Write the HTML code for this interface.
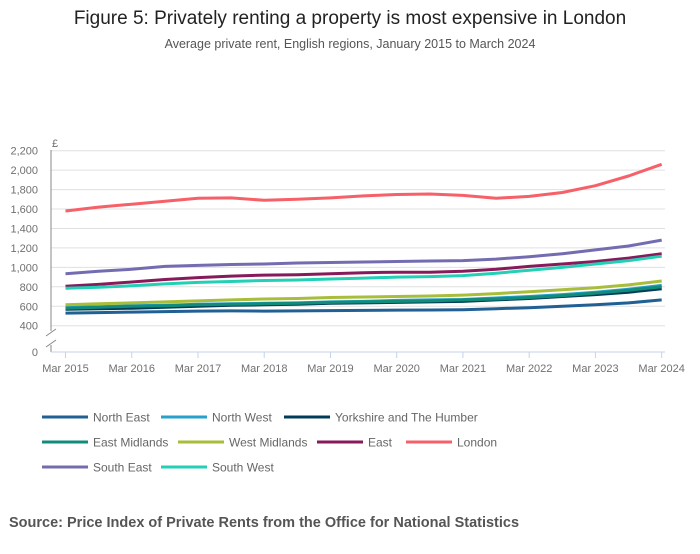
<!DOCTYPE html>
<html><head><meta charset="utf-8"><style>
body{margin:0;width:700px;height:549px;background:#fff;font-family:"Liberation Sans",sans-serif;overflow:hidden}
svg text{font-family:"Liberation Sans",sans-serif}
</style></head><body>
<svg id="chart" width="700" height="549">
<text x="350" y="24" text-anchor="middle" font-size="19" fill="#222">Figure 5: Privately renting a property is most expensive in London</text>
<text x="350" y="48" text-anchor="middle" font-size="12.5" fill="#555">Average private rent, English regions, January 2015 to March 2024</text>
<text x="9" y="527" font-size="14.5" font-weight="bold" fill="#555">Source: Price Index of Private Rents from the Office for National Statistics</text>
<g id="grid"></g><g id="axes"></g><g id="lines"></g><g id="legend"></g>
</svg>
<script>
const years = [2015,2016,2017,2018,2019,2020,2021,2022,2023,2024];
const yTicks = [400,600,800,1000,1200,1400,1600,1800,2000,2200];
const regions = ["North East","North West","Yorkshire and The Humber","East Midlands","West Midlands","East","London","South East","South West"];
const colors = ["#206095","#27a0cc","#003c57","#118c7b","#a8bd3a","#871a5b","#f66068","#746cb1","#22d0b6"];
const northEast = [530,535,540,545,550,552,550,552,555,557,560,562,565,575,585,600,615,635,665];
const northWest = [590,595,605,610,620,625,630,635,645,650,660,665,670,685,700,720,745,775,815];
const yorkshire = [570,575,580,590,600,610,615,620,630,635,640,645,650,665,680,700,720,745,780];
const eastMidlands = [580,590,600,605,615,620,625,630,640,645,650,655,665,675,690,710,735,765,800];
const westMidlands = [615,625,635,645,655,665,675,680,690,695,700,705,715,730,750,770,790,820,860];
const east = [805,825,850,875,895,910,920,925,935,945,950,950,960,980,1010,1035,1060,1095,1140];
const london = [1580,1620,1650,1680,1710,1715,1690,1700,1715,1735,1750,1755,1740,1710,1730,1770,1840,1940,2060];
const southEast = [935,960,980,1010,1020,1030,1035,1045,1050,1055,1060,1065,1070,1085,1110,1140,1180,1220,1280];
const southWest = [785,795,810,830,845,855,865,870,880,890,900,905,915,940,970,1000,1035,1070,1115];
const series = [northEast,northWest,yorkshire,eastMidlands,westMidlands,east,london,southEast,southWest];
const NS="http://www.w3.org/2000/svg";
const xS = t => 65.5 + (t-2015)*66.24;
const yS = v => 325.7 - (v-400)*0.09722;
function mk(tag,attrs,parent){const e=document.createElementNS(NS,tag);for(const k in attrs)e.setAttribute(k,attrs[k]);parent.appendChild(e);return e;}
const grid=document.getElementById('grid'),axes=document.getElementById('axes'),lines=document.getElementById('lines'),legend=document.getElementById('legend');
yTicks.forEach(v=>{
  const l=mk('line',{x1:51,x2:665,y1:yS(v),y2:yS(v),stroke:'#e0e0e0','stroke-width':1},grid);
  
  
  const t=mk('text',{x:38,y:yS(v)+4,'text-anchor':'end','font-size':11,fill:'#707070'},axes);
  t.textContent=v.toLocaleString('en-GB');
  
  
});
const z=mk('text',{x:38,y:356,'text-anchor':'end','font-size':11,fill:'#707070'},axes);z.textContent='0';


const pd=mk('text',{x:52,y:147,'font-size':11,fill:'#707070'},axes);pd.textContent='£';


mk('line',{x1:51,x2:51,y1:150,y2:331,stroke:'#888'},axes);
mk('line',{x1:51,x2:51,y1:345,y2:352,stroke:'#888'},axes);
mk('line',{x1:46,x2:56,y1:336,y2:329,stroke:'#888'},axes);
mk('line',{x1:46,x2:56,y1:347,y2:340,stroke:'#888'},axes);
mk('line',{x1:51,x2:665,y1:352,y2:352,stroke:'#c5d3e8'},axes);
years.forEach(yr=>{
  mk('line',{x1:xS(yr),x2:xS(yr),y1:352,y2:358,stroke:'#c5d3e8'},axes);
  const t=mk('text',{x:xS(yr),y:372,'text-anchor':'middle','font-size':11,fill:'#707070'},axes);
  t.textContent='Mar '+yr;
  
  
});
series.forEach((s,i)=>{
  const d=s.map((v,j)=>(j?'L':'M')+xS(2015+j*0.5).toFixed(1)+','+yS(v).toFixed(1)).join(' ');
  const p=mk('path',{d:d,fill:'none',stroke:colors[i],'stroke-width':3,'stroke-linejoin':'round'},lines);
  
  
});
const legPos=[[42,417],[161,417],[284,417],[42,442],[178,442],[317,442],[406,442],[42,467],[161,467]];
regions.forEach((r,i)=>{
  const [x,y]=legPos[i];
  const g=mk('g',{},legend);
  
  
  mk('line',{x1:x,x2:x+46,y1:y,y2:y,stroke:colors[i],'stroke-width':3},g);
  const t=mk('text',{x:x+51,y:y+4.5,'font-size':12,fill:'#666'},g);t.textContent=r;
});
</script>
</body></html>
